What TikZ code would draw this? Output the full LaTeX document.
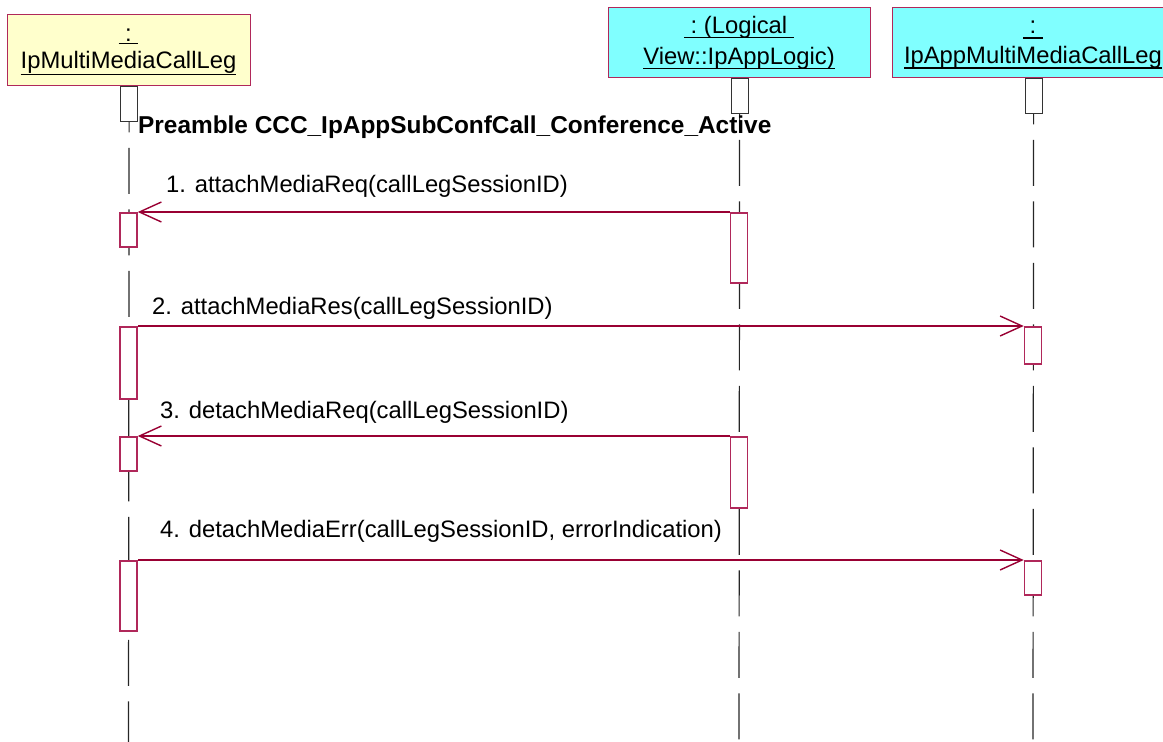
\documentclass[tikz,border=0pt]{standalone}
\usepackage{fontspec}
\setmainfont{Liberation Sans}
\usetikzlibrary{arrows.meta}
\definecolor{rose}{RGB}{153,0,51}
\definecolor{rosebox}{RGB}{176,40,90}
\definecolor{hdryellow}{RGB}{255,255,204}
\definecolor{hdrcyan}{RGB}{128,255,255}
\newcommand\myul[2]{\setbox0=\hbox{#2}\rlap{\rule[\dimexpr-#1pt-1.8pt\relax]{\wd0}{1.8pt}}\box0}
\tikzset{
  hdrbox/.style={draw=rosebox, line width=1.3pt, inner sep=0pt, anchor=north west},
  hdrtext/.style={inner sep=0pt, anchor=base},
  initbar/.style={draw=black!80, line width=1pt, fill=white, minimum width=17pt, inner sep=0pt, anchor=north, minimum height=35pt},
  actbar/.style={draw=rosebox, line width=1.5pt, fill=white, minimum width=17pt, inner sep=0pt, anchor=north},
  lifeline/.style={draw=black!85, line width=1.2pt, dash pattern=on 46pt off 15.5pt},
  msg/.style={draw=rose, line width=1.2pt, -{Straight Barb[length=22pt,width=20pt,line width=1.4pt]}},
  msglabel/.style={inner sep=0pt, anchor=base west}
}
\begin{document}
\begin{tikzpicture}[x=1pt,y=-1pt,font=\fontsize{23.8pt}{28pt}\selectfont]
\useasboundingbox (0,0) rectangle (1163,742);
% header boxes
\node[hdrbox, fill=hdryellow, minimum width=243pt, minimum height=71pt] (h1) at (7,14) {};
\node[hdrbox, fill=hdrcyan, minimum width=262pt, minimum height=70pt] (h2) at (608,7) {};
\node[hdrbox, fill=hdrcyan, minimum width=282pt, minimum height=70pt] (h3) at (892,7) {};
% header texts
\node[hdrtext] (t1a) at (128.5,41) {\myul{1.5}{\ :\ }};
\node[hdrtext] (t1b) at (128.5,68) {\myul{5.5}{IpMultiMediaCallLeg}};
\node[hdrtext] (t2a) at (739,33) {\myul{3.5}{\ :\ (Logical\ }};
\node[hdrtext] (t2b) at (739,64) {\myul{3.5}{View::IpAppLogic)}};
\node[hdrtext] (t3a) at (1033,33) {\myul{4}{\ :\ }};
\node[hdrtext] (t3b) at (1033,63) {\myul{4}{IpAppMultiMediaCallLeg}};
% lifeline ends
\coordinate (e1) at (128.5,742);
\coordinate (e2) at (739,742);
\coordinate (e3) at (1033,742);
\draw[lifeline] (h1.south) -- (e1);
\draw[lifeline] (h2.south) -- (e2);
\draw[lifeline] (h3.south) -- (e3);
% initial bars
\node[initbar] (i1) at (h1.south) {};
\node[initbar] (i2) at (h2.south) {};
\node[initbar] (i3) at (h3.south) {};
% preamble
\node[msglabel, font=\fontsize{24.4pt}{28pt}\selectfont\bfseries] (pre) at (138,133) {Preamble CCC\_IpAppSubConfCall\_Conference\_Active};
% activation bars
\node[actbar, minimum height=34pt] (a1) at (128.5,212) {};
\node[actbar, minimum height=70pt] (b1) at (739,212) {};
\node[actbar, minimum height=72pt] (a2) at (128.5,326) {};
\node[actbar, minimum height=37pt] (c2) at (1033,326) {};
\node[actbar, minimum height=34pt] (a3) at (128.5,436) {};
\node[actbar, minimum height=71pt] (b3) at (739,436) {};
\node[actbar, minimum height=70pt] (a4) at (128.5,560) {};
\node[actbar, minimum height=34pt] (c4) at (1033,560) {};
% messages
\draw[msg] (b1.north west) -- (a1.north east);
\draw[msg] (a2.north east) -- (c2.north west);
\draw[msg] (b3.north west) -- (a3.north east);
\draw[msg] (a4.north east) -- (c4.north west);
% labels
\node[msglabel] (m1) at (166,192) {1. attachMediaReq(callLegSessionID)};
\node[msglabel] (m2) at (152,314) {2. attachMediaRes(callLegSessionID)};
\node[msglabel] (m3) at (160,418) {3. detachMediaReq(callLegSessionID)};
\node[msglabel] (m4) at (160,537) {4. detachMediaErr(callLegSessionID, errorIndication)};
\end{tikzpicture}
\end{document}
